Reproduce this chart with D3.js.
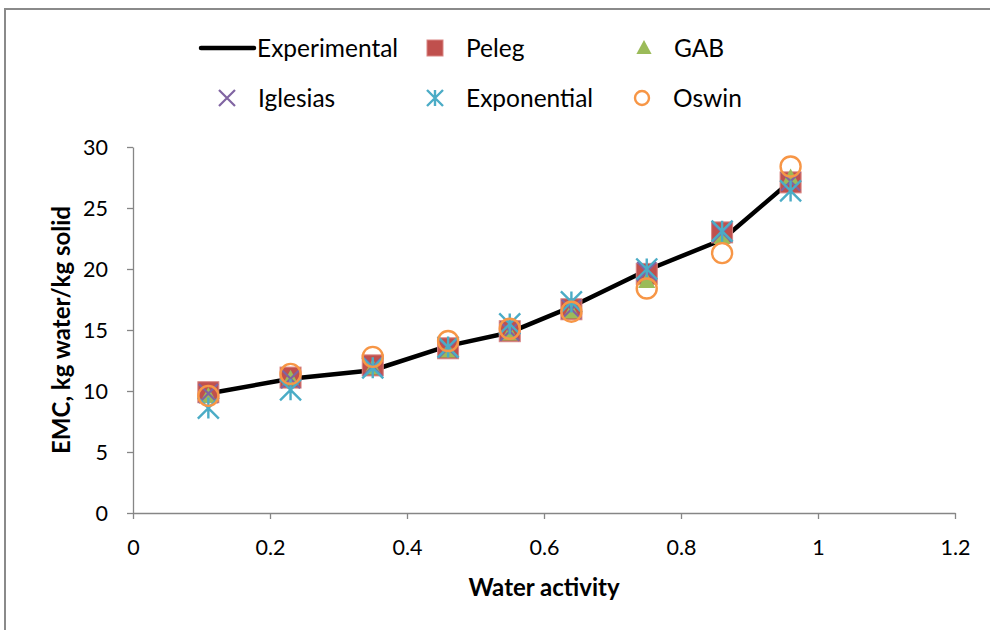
<!DOCTYPE html>
<html>
<head>
<meta charset="utf-8">
<script src="https://cdn.jsdelivr.net/npm/d3@7"></script>
<style>
  html, body { margin: 0; padding: 0; background: #fff; }
  svg { display: block; font-family: Lato, "Open Sans", sans-serif; }
</style>
</head>
<body>
<svg id="chart" width="990" height="630"></svg>
<script>
// Water activity levels
const aw = [0.11, 0.23, 0.35, 0.46, 0.55, 0.64, 0.75, 0.86, 0.96];
// Equilibrium moisture content (kg water / kg solid)
const experimental = [9.8, 11.0, 11.7, 13.7, 14.8, 16.9, 19.9, 22.4, 27.2];
const peleg        = [9.9, 11.1, 12.1, 13.5, 14.9, 16.7, 19.6, 23.0, 27.1];
const gab          = [9.6, 11.0, 11.9, 13.3, 14.7, 16.5, 19.0, 22.6, 27.5];
const iglesias     = [9.8, 11.0, 12.0, 13.5, 14.9, 16.7, 19.8, 23.0, 27.2];
const exponential  = [8.6, 10.1, 11.9, 13.6, 15.5, 17.3, 20.0, 23.1, 26.4];
const oswin        = [9.6, 11.4, 12.8, 14.1, 15.1, 16.5, 18.4, 21.3, 28.4];

const xTicks = [0, 0.2, 0.4, 0.6, 0.8, 1, 1.2];
const yTicks = [0, 5, 10, 15, 20, 25, 30];

const colors = {
  peleg: "#C0504D", gab: "#9BBB59", iglesias: "#8064A2",
  exponential: "#4BACC6", oswin: "#F79646"
};

const svg = d3.select("#chart");

// outer frame
svg.append("rect").attr("x", 5).attr("y", 9).attr("width", 1000).attr("height", 640)
  .attr("fill", "none").attr("stroke", "#8a8a8a").attr("stroke-width", 2);

const x = d3.scaleLinear().domain([0, 1.2]).range([133, 955]);
const y = d3.scaleLinear().domain([0, 30]).range([513, 147]);

const fmt = d => String(d);

const xAxis = svg.append("g").attr("transform", `translate(0,${y(0)})`)
  .call(d3.axisBottom(x).tickValues(xTicks).tickFormat(fmt).tickSizeInner(6).tickSizeOuter(0).tickPadding(20));
const yAxis = svg.append("g").attr("transform", `translate(${x(0)},0)`)
  .call(d3.axisLeft(y).tickValues(yTicks).tickFormat(fmt).tickSizeInner(6).tickSizeOuter(0).tickPadding(19));

[xAxis, yAxis].forEach(g => {
  g.select(".domain").attr("stroke", "#868686").attr("stroke-width", 1.3);
  g.selectAll(".tick line").attr("stroke", "#868686").attr("stroke-width", 1.3);
  g.selectAll(".tick text").attr("fill", "#000").attr("font-size", 21.5)
    .attr("font-family", "Lato, 'Open Sans', sans-serif");
});
xAxis.selectAll(".tick text").attr("dy", "0.75em");
yAxis.selectAll(".tick text").attr("dy", "0.35em");

// axis titles
svg.append("text").attr("x", 544).attr("y", 596).attr("text-anchor", "middle")
  .attr("font-size", 24).attr("font-weight", "bold").text("Water activity");
svg.append("text").attr("transform", `translate(70,${(y(0) + y(30)) / 2}) rotate(-90)`)
  .attr("text-anchor", "middle").attr("font-size", 24).attr("font-weight", "bold")
  .text("EMC, kg water/kg solid");

// marker drawing helpers
function drawMarker(g, type, cx, cy, s) {
  const h = s / 2;
  if (type === "square") {
    g.append("rect").attr("x", cx - h).attr("y", cy - h).attr("width", s).attr("height", s)
      .attr("fill", colors.peleg).attr("stroke", "#d98583").attr("stroke-width", 1);
  } else if (type === "triangle") {
    g.append("path").attr("d", `M${cx},${cy - h}L${cx + h * 0.95},${cy + h * 0.75}L${cx - h * 0.95},${cy + h * 0.75}Z`)
      .attr("fill", colors.gab);
  } else if (type === "x") {
    g.append("path").attr("d", `M${cx - h},${cy - h}L${cx + h},${cy + h}M${cx - h},${cy + h}L${cx + h},${cy - h}`)
      .attr("stroke", colors.iglesias).attr("stroke-width", 2.2).attr("fill", "none");
  } else if (type === "star") {
    g.append("path").attr("d", `M${cx - h},${cy - h}L${cx + h},${cy + h}M${cx - h},${cy + h}L${cx + h},${cy - h}M${cx},${cy - h}L${cx},${cy + h}`)
      .attr("stroke", colors.exponential).attr("stroke-width", 2.4).attr("fill", "none");
  } else if (type === "circle") {
    g.append("circle").attr("cx", cx).attr("cy", cy).attr("r", h - 1)
      .attr("fill", "none").attr("stroke", colors.oswin).attr("stroke-width", 2.4);
  }
}

// experimental curve
const line = d3.line().x((d, i) => x(aw[i])).y(d => y(d));
svg.append("path").datum(experimental).attr("d", line)
  .attr("fill", "none").attr("stroke", "#000").attr("stroke-width", 4.5)
  .attr("stroke-linejoin", "round").attr("stroke-linecap", "round");

// model series markers
const series = [
  { vals: peleg, type: "square", size: 21 },
  { vals: gab, type: "triangle", size: 18 },
  { vals: iglesias, type: "x", size: 19 },
  { vals: exponential, type: "star", size: 21 },
  { vals: oswin, type: "circle", size: 22 }
];
series.forEach(s => {
  const g = svg.append("g");
  s.vals.forEach((v, i) => drawMarker(g, s.type, x(aw[i]), y(v), s.size));
});

// legend
const legend = svg.append("g").attr("font-size", 24.5).attr("fill", "#000");
legend.append("line").attr("x1", 201).attr("x2", 254).attr("y1", 48).attr("y2", 48)
  .attr("stroke", "#000").attr("stroke-width", 4.5).attr("stroke-linecap", "round");
const legendItems = [
  { label: "Experimental", tx: 257, ty: 48 },
  { label: "Peleg", type: "square", mx: 435, tx: 466, ty: 48 },
  { label: "GAB", type: "triangle", mx: 644, tx: 674, ty: 48 },
  { label: "Iglesias", type: "x", mx: 227, tx: 258, ty: 98 },
  { label: "Exponential", type: "star", mx: 435, tx: 466, ty: 98 },
  { label: "Oswin", type: "circle", mx: 642, tx: 673, ty: 98 }
];
legendItems.forEach(it => {
  if (it.type) drawMarker(legend, it.type, it.mx, it.ty, 16);
  legend.append("text").attr("x", it.tx).attr("y", it.ty).attr("dy", "0.35em").text(it.label);
});
</script>
</body>
</html>
